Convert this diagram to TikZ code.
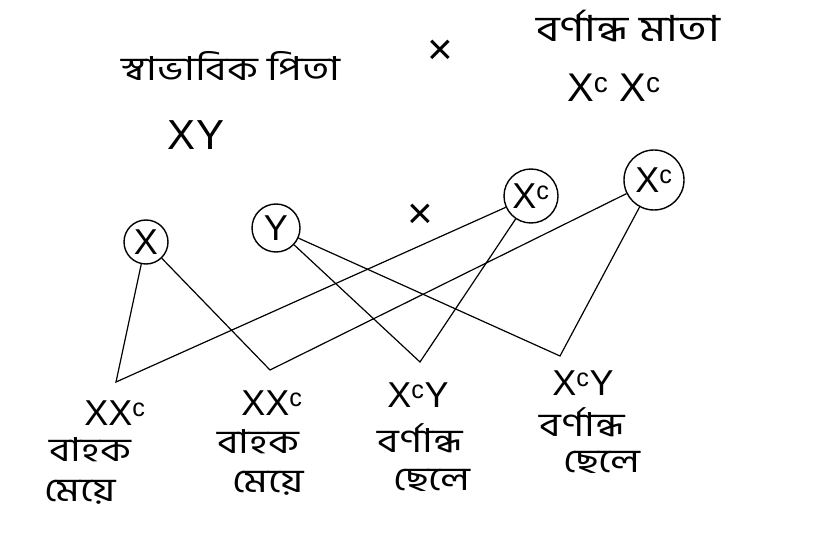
\documentclass[tikz,border=0pt]{standalone}
\usepackage{fontspec}
\newfontfamily\bn[Script=Bengali,FakeStretch=1.25]{Hind Siliguri}
\newfontfamily\lat{Liberation Sans}
\begin{document}
\begin{tikzpicture}[x=1pt,y=-1pt,
  bntext/.style={font=\bn\fontsize{33}{35}\selectfont, inner sep=0pt},
  gen/.style={font=\lat\fontsize{36}{38}\selectfont, inner sep=0pt},
  gam/.style={draw, circle, line width=1.4pt, font=\lat\fontsize{36}{38}\selectfont, inner sep=0pt},
  cross/.style={font=\lat\fontsize{44}{46}\selectfont, inner sep=0pt},
  link/.style={line width=1.2pt}]
\useasboundingbox (0,0) rectangle (813,553);
\fill[white] (0,0) rectangle (813,553);
% parents
\node[bntext] (father) at (231,66) {স্বাভাবিক পিতা};
\node[cross] (pcross) at (440,52) {×};
\node[bntext, font=\bn\fontsize{36}{38}\selectfont] (mother) at (628,26) {বর্ণান্ধ মাতা};
\node[gen, font=\lat\fontsize{42}{44}\selectfont] (fg) at (196,135) {XY};
\node[gen, font=\lat\fontsize{40}{42}\selectfont] (mg) at (614,88) {X\textsuperscript{c} X\textsuperscript{c}};
% gametes
\node[gam, minimum size=44pt] (gX) at (146,242) {X};
\node[gam, minimum size=48pt] (gY) at (276,228) {Y};
\node[cross] (gcross) at (420,216) {×};
\node[gam, minimum size=54pt] (gc1) at (531,196) {X\textsuperscript{c}};
\node[gam, minimum size=60pt] (gc2) at (654,180) {X\textsuperscript{c}};
% junctions
\coordinate (v1) at (116,382);
\coordinate (v2) at (270,370);
\coordinate (v3) at (420,362);
\coordinate (v4) at (560,356);
\draw[link] (gX) -- (v1) -- (gc1);
\draw[link] (gX) -- (v2) -- (gc2);
\draw[link] (gY) -- (v3) -- (gc1);
\draw[link] (gY) -- (v4) -- (gc2);
% offspring
\node[gen] (o1) at (115,413) {XX\textsuperscript{c}};
\node[bntext] (o1a) at (90,450) {বাহক};
\node[bntext] (o1b) at (80,492) {মেয়ে};
\node[gen] (o2) at (272,403) {XX\textsuperscript{c}};
\node[bntext] (o2a) at (258,442) {বাহক};
\node[bntext] (o2b) at (268,483) {মেয়ে};
\node[gen] (o3) at (418,395) {X\textsuperscript{c}Y};
\node[bntext] (o3a) at (420,438) {বর্ণান্ধ};
\node[bntext] (o3b) at (432,480) {ছেলে};
\node[gen] (o4) at (583,383) {X\textsuperscript{c}Y};
\node[bntext] (o4a) at (582,422) {বর্ণান্ধ};
\node[bntext] (o4b) at (602,462) {ছেলে};
\end{tikzpicture}
\end{document}
